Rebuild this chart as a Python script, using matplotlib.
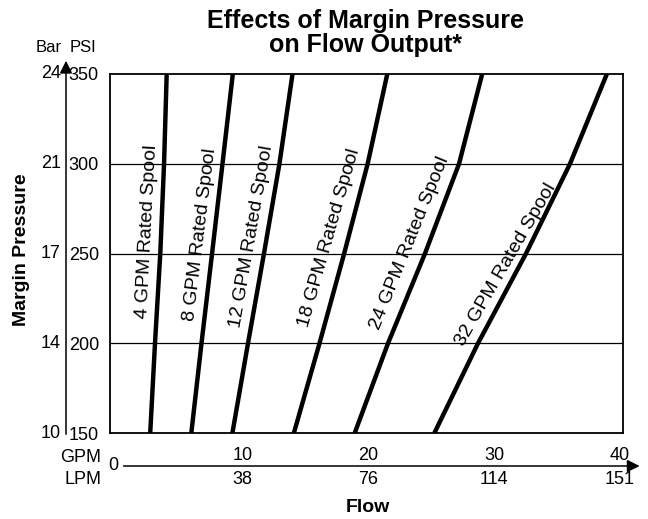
import numpy as np
import matplotlib
matplotlib.use("Agg")
import matplotlib.pyplot as plt
from matplotlib import transforms, patches

plt.rcParams['font.family'] = ['Liberation Sans', 'DejaVu Sans']

# pressure levels (PSI) at which each curve was read
psi = [150, 200, 250, 300, 350]
bar_labels = ['10', '14', '17', '21', '24']

# flow (GPM) of each spool curve at the pressure levels above
spools = ['4', '8', '12', '18', '24', '32']
flow_4 = [2.64, 3.02, 3.44, 3.74, 3.95]
flow_8 = [5.91, 6.72, 7.56, 8.39, 9.21]
flow_12 = [9.18, 10.42, 11.69, 12.92, 13.96]
flow_18 = [14.07, 16.11, 18.07, 19.94, 21.50]
flow_24 = [18.91, 21.56, 24.50, 27.21, 29.05]
flow_32 = [25.25, 28.72, 32.54, 36.04, 38.97]
flows = [flow_4, flow_8, flow_12, flow_18, flow_24, flow_32]

# label anchor (gpm, psi) and screen angle for each curve
label_x = [2.39, 6.60, 10.74, 16.87, 23.31, 30.95]
label_y = [262.0, 260.3, 259.7, 258.6, 255.8, 243.6]
label_rot = [87, 83, 80, 74, 68, 60]

gpm_ticks = [10, 20, 30, 40]
lpm_ticks = ['38', '76', '114', '151']

W, H = 648, 519
fig = plt.figure(figsize=(W / 100, H / 100), dpi=100)
ax = fig.add_axes([110 / W, 1 - 433 / H, (622.7 - 110) / W, (433 - 74) / H])

for f in flows:
    ax.plot(f, psi, color='black', lw=3.2, solid_capstyle='butt', solid_joinstyle='round')

for s, lx, ly, r in zip(spools, label_x, label_y, label_rot):
    ax.text(lx, ly, f'{s} GPM Rated Spool', rotation=r, rotation_mode='anchor',
            ha='center', va='center', fontsize=14)

for p in psi[1:-1]:
    ax.axhline(p, color='black', lw=0.9)

ax.set_xlim(-0.56, 40.23)
ax.set_ylim(150, 350)
ax.set_xticks([])
ax.set_yticks(psi)
ax.set_yticklabels([str(p) for p in psi], fontsize=13)
ax.tick_params(axis='y', length=0, pad=8)
for sp in ax.spines.values():
    sp.set_linewidth(1.3)

# bar labels and the vertical arrow on the left
trans_l = transforms.blended_transform_factory(fig.transFigure, ax.transData)
for p, b in zip(psi, bar_labels):
    fig.text(61 / W, p, b, transform=trans_l, fontsize=13, ha='right', va='center')

fig.add_artist(patches.FancyArrowPatch(
    (66 / W, 1 - 437 / H), (66 / W, 1 - 58 / H), transform=fig.transFigure,
    arrowstyle='-|>,head_length=5,head_width=2.5', lw=1.1, color='black', mutation_scale=1.5))
fig.text(62 / W, 1 - 47 / H, 'Bar', ha='right', va='center', fontsize=12)
fig.text(70 / W, 1 - 47 / H, 'PSI', ha='left', va='center', fontsize=12)

# bottom flow axis
trans_b = transforms.blended_transform_factory(ax.transData, fig.transFigure)
y_ax = 1 - 466 / H
fig.add_artist(patches.FancyArrowPatch(
    (0.3, y_ax), (41.8, y_ax), transform=trans_b,
    arrowstyle='-|>,head_length=5,head_width=2.5', lw=1.1, color='black', mutation_scale=1.5))
for g, l in zip(gpm_ticks, lpm_ticks):
    fig.text(g, 1 - 455 / H, str(g), transform=trans_b, ha='center', va='center', fontsize=13)
    fig.text(g, 1 - 479 / H, l, transform=trans_b, ha='center', va='center', fontsize=13)
fig.text(113 / W, y_ax, '0', ha='center', va='center', fontsize=13)
fig.text(101 / W, 1 - 458 / H, 'GPM', ha='right', va='center', fontsize=13)
fig.text(101 / W, 1 - 479 / H, 'LPM', ha='right', va='center', fontsize=13)
fig.text(368 / W, 1 - 508 / H, 'Flow', ha='center', va='center', fontsize=14, fontweight='bold')

fig.text(22 / W, 1 - 250 / H, 'Margin Pressure', rotation=90, ha='center', va='center',
         fontsize=14, fontweight='bold')
fig.text(366 / W, 1 - 33 / H, 'Effects of Margin Pressure\non Flow Output*', ha='center',
         va='center', fontsize=18, fontweight='bold', linespacing=0.95)

fig.savefig('out.png', dpi=100)
